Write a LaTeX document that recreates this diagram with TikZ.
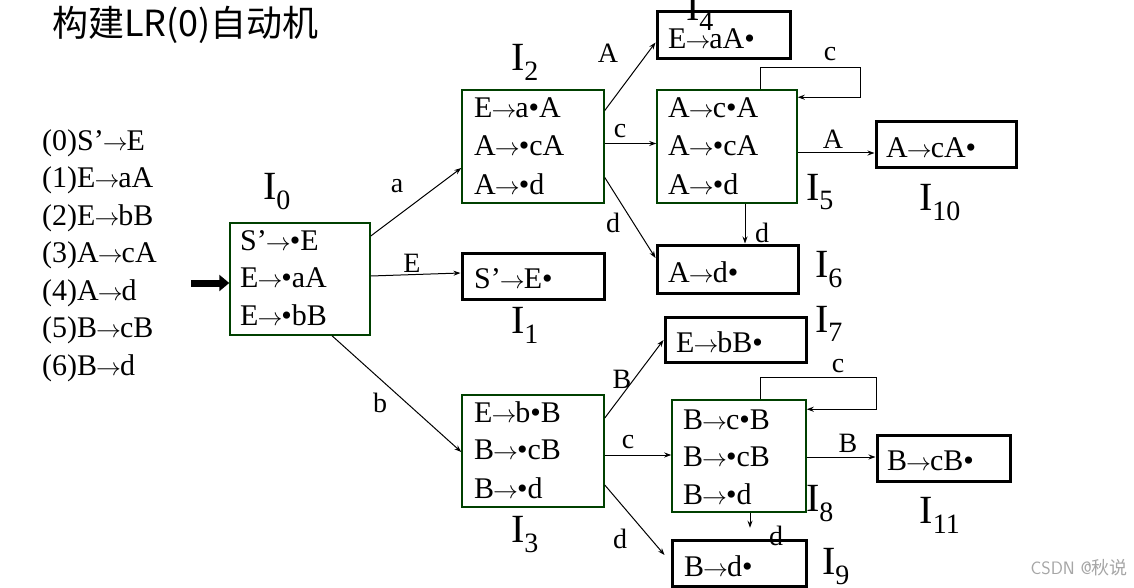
\documentclass[tikz,border=0pt]{standalone}
\usepackage{fontspec}
\setmainfont{Liberation Serif}
\newfontfamily\cjk{Noto Sans CJK SC}
\usetikzlibrary{arrows.meta}
\newcommand{\ra}{\kern-1pt$\rightarrow$\kern-1pt}
\newcommand{\bu}{•}
\begin{document}
\begin{tikzpicture}[x=1pt,y=-1pt,
  multi/.style={draw=green!25!black,line width=1.5pt,inner sep=0pt},
  single/.style={draw=black,line width=3pt,inner sep=0pt},
  item/.style={anchor=west,inner sep=0pt,font=\fontsize{30}{32}\selectfont},
  lbl/.style={inner sep=0pt,font=\fontsize{28}{30}\selectfont},
  st/.style={inner sep=0pt,font=\fontsize{40}{42}\selectfont},
  arr/.style={-{Stealth[length=7pt,width=5pt]},line width=1pt}]
\useasboundingbox[fill=white] (0,0) rectangle (1134,588);
\node[anchor=west,inner sep=0pt,font=\cjk\fontsize{36}{38}\selectfont] (title) at (52,25) {构建LR(0)自动机};
% grammar
\foreach \t [count=\i from 0] in {(0)S’\ra E,(1)E\ra aA,(2)E\ra bB,(3)A\ra cA,(4)A\ra d,(5)B\ra cB,(6)B\ra d}
  \node[item] (g\i) at (42,143+37.5*\i) {\t};
% boxes
\node[multi,minimum width=140,minimum height=112] (I0) at (300,279) {};
\node[multi,minimum width=142,minimum height=113] (I2) at (533,146.5) {};
\node[single,minimum width=142,minimum height=46] (I1) at (533,276) {};
\node[multi,minimum width=142,minimum height=112] (I3) at (533,451) {};
\node[single,minimum width=133,minimum height=47] (I4) at (723.5,35.5) {};
\node[multi,minimum width=140,minimum height=113] (I5) at (727,146.5) {};
\node[single,minimum width=141,minimum height=48] (I6) at (727.5,269) {};
\node[single,minimum width=140,minimum height=46] (I10) at (946,145) {};
\node[single,minimum width=141,minimum height=45] (I7) at (735.5,339.5) {};
\node[multi,minimum width=134,minimum height=112] (I8) at (739,456) {};
\node[single,minimum width=133,minimum height=46] (I11) at (943.5,458) {};
\node[single,minimum width=134,minimum height=46] (I9) at (739,563) {};
% items
\node[item] (a01) at (240,241) {S’\ra\bu E};
\node[item] (a02) at (240,278) {E\ra\bu aA};
\node[item] (a03) at (240,315) {E\ra\bu bB};
\node[item] (a21) at (474,108) {E\ra a\bu A};
\node[item] (a22) at (474,146) {A\ra\bu cA};
\node[item] (a23) at (474,184) {A\ra\bu d};
\node[item] (a11) at (474,279) {S’\ra E\bu};
\node[item] (a31) at (474,412) {E\ra b\bu B};
\node[item] (a32) at (474,450) {B\ra\bu cB};
\node[item] (a33) at (474,488) {B\ra\bu d};
\node[item] (a41) at (668,39) {E\ra aA\bu};
\node[item] (a51) at (668,108) {A\ra c\bu A};
\node[item] (a52) at (668,146) {A\ra\bu cA};
\node[item] (a53) at (668,184) {A\ra\bu d};
\node[item] (a61) at (668,272) {A\ra d\bu};
\node[item] (a101) at (886,148) {A\ra cA\bu};
\node[item] (a71) at (676,342) {E\ra bB\bu};
\node[item] (a81) at (683,420) {B\ra c\bu B};
\node[item] (a82) at (683,457) {B\ra\bu cB};
\node[item] (a83) at (683,494) {B\ra\bu d};
\node[item] (a111) at (887,461) {B\ra cB\bu};
\node[item] (a91) at (684,566) {B\ra d\bu};
% state labels
\node[st] (l0) at (277,192) {I\textsubscript{0}};
\node[st] (l1) at (525,325) {I\textsubscript{1}};
\node[st] (l2) at (525,62) {I\textsubscript{2}};
\node[st] (l3) at (525,535) {I\textsubscript{3}};
\node[st] (l4) at (700,12) {I\textsubscript{4}};
\node[st] (l5) at (820,192) {I\textsubscript{5}};
\node[st] (l6) at (829,270) {I\textsubscript{6}};
\node[st] (l7) at (829,324) {I\textsubscript{7}};
\node[st] (l8) at (820,504) {I\textsubscript{8}};
\node[st] (l9) at (836,567) {I\textsubscript{9}};
\node[st] (l10) at (940,203) {I\textsubscript{10}};
\node[st] (l11) at (940,515) {I\textsubscript{11}};
% start arrow
\coordinate (s0) at (191,283);
\draw[-{Triangle[length=10pt,width=16pt]},line width=7pt] (s0) -- ([yshift=-4pt]I0.west);
% edges
\draw[arr] ([yshift=43pt]I0.east) -- ([yshift=-21.5pt]I2.west);
\node[lbl] (ea) at (397,186) {a};
\draw[arr] ([yshift=3pt]I0.east) -- ([yshift=3pt]I1.west);
\node[lbl] (eE) at (412,263) {E};
\draw[arr] ([xshift=32pt]I0.south) -- ([yshift=-1pt]I3.west);
\node[lbl] (eb) at (380,403) {b};
\draw[arr] ([yshift=36pt]I2.east) -- ([yshift=-7pt]I4.west);
\node[lbl] (eA1) at (608,53) {A};
\draw[arr] ([yshift=3pt]I2.east) -- ([yshift=3pt]I5.west);
\node[lbl] (ec1) at (620,131) {c};
\draw[arr] ([yshift=-31pt]I2.east) -- ([yshift=11pt]I6.west);
\node[lbl] (ed1) at (613,223) {d};
\draw[arr] ([xshift=33pt]I5.north) -- ++(0,-22) -| ++(100,30) -- ([yshift=-8pt]I5.north east);
\node[lbl] (ec2) at (830,54) {c};
\draw[arr] ([yshift=-6.5pt]I5.east) -- ([yshift=-8pt]I10.west);
\node[lbl] (eA2) at (833,139) {A};
\draw[arr] ([xshift=18pt]I5.south) -- ([xshift=17.5pt]I6.north);
\node[lbl] (ed2) at (762,233) {d};
\draw[arr] ([yshift=33pt]I3.east) -- ([yshift=-0.5pt]I7.west);
\node[lbl] (eB1) at (622,379) {B};
\draw[arr] ([yshift=-4pt]I3.east) -- ([yshift=1pt]I8.west);
\node[lbl] (ec3) at (628,442) {c};
\draw[arr] ([yshift=-34pt]I3.east) -- ([yshift=8pt,xshift=-6pt]I9.west);
\node[lbl] (ed3) at (620,539) {d};
\draw[arr] ([xshift=21pt]I8.north) -- ++(0,-22) -| ++(116,32) -- ([yshift=-10pt]I8.north east);
\node[lbl] (ec4) at (838,366) {c};
\draw[arr] ([yshift=-1pt]I8.east) -- ([yshift=1pt]I11.west);
\node[lbl] (eB2) at (848,443) {B};
\draw[arr] ([xshift=11pt]I8.south) -- ++(0,15) coordinate (d9);
\node[lbl] (ed4) at (776,536) {d};
\node[anchor=east,inner sep=0pt,text=gray!70,font=\fontsize{18}{20}\selectfont\sffamily] (wm) at (1128,568) {CSDN @{\cjk 秋说}};
\end{tikzpicture}
\end{document}
